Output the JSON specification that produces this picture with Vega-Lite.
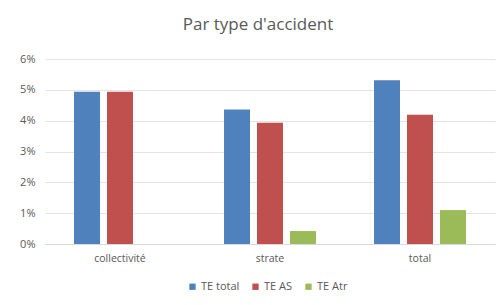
{
  "$schema": "https://vega.github.io/schema/vega-lite/v6.json",
  "autosize": {"type": "none"},
  "width": 450,
  "height": 185,
  "padding": {"left": 45, "top": 59, "right": 5, "bottom": 61},
  "background": "white",
  "title": {
    "text": "Par type d'accident",
    "anchor": "middle",
    "dx": -12,
    "offset": 19,
    "fontSize": 17,
    "font": "Open Sans",
    "fontWeight": "normal",
    "color": "#595959"
  },
  "data": {
    "values": [
      {"categorie": "collectivité", "serie": "TE total", "valeur": 0.0494},
      {"categorie": "collectivité", "serie": "TE AS", "valeur": 0.0494},
      {"categorie": "strate", "serie": "TE total", "valeur": 0.0436},
      {"categorie": "strate", "serie": "TE AS", "valeur": 0.0393},
      {"categorie": "strate", "serie": "TE Atr", "valeur": 0.0042},
      {"categorie": "total", "serie": "TE total", "valeur": 0.0531},
      {"categorie": "total", "serie": "TE AS", "valeur": 0.0419},
      {"categorie": "total", "serie": "TE Atr", "valeur": 0.011}
    ]
  },
  "mark": {"type": "bar"},
  "encoding": {
    "x": {
      "field": "categorie",
      "type": "nominal",
      "sort": ["collectivité", "strate", "total"],
      "scale": {"paddingInner": 0.387, "paddingOuter": 0.1935},
      "axis": {
        "title": null,
        "labelAngle": 0,
        "ticks": false,
        "domainColor": "#d9d9d9",
        "labelPadding": 9,
        "labelFontSize": 10.5,
        "labelFont": "Open Sans",
        "labelColor": "#595959"
      }
    },
    "xOffset": {
      "field": "serie",
      "type": "nominal",
      "scale": {"domain": ["TE total", "TE AS", "TE Atr"], "paddingInner": 0.212, "paddingOuter": 0}
    },
    "y": {
      "field": "valeur",
      "type": "quantitative",
      "scale": {"domain": [0, 0.06], "nice": false},
      "axis": {
        "title": null,
        "values": [0, 0.01, 0.02, 0.03, 0.04, 0.05, 0.06],
        "format": ".0%",
        "domain": false,
        "ticks": false,
        "gridColor": "#e3e3e3",
        "labelPadding": 10,
        "labelFontSize": 11,
        "labelFont": "Open Sans",
        "labelColor": "#595959"
      }
    },
    "color": {
      "field": "serie",
      "type": "nominal",
      "scale": {"domain": ["TE total", "TE AS", "TE Atr"], "range": ["#4F81BD", "#C0504D", "#9BBB59"]},
      "legend": {
        "title": null,
        "orient": "none",
        "direction": "horizontal",
        "legendX": 142,
        "legendY": 222,
        "symbolType": "square",
        "symbolSize": 40,
        "symbolStrokeWidth": 0,
        "labelFontSize": 11,
        "labelFont": "Open Sans",
        "labelColor": "#595959",
        "columnPadding": 10,
        "labelOffset": 3
      }
    }
  },
  "config": {"view": {"stroke": null}}
}
